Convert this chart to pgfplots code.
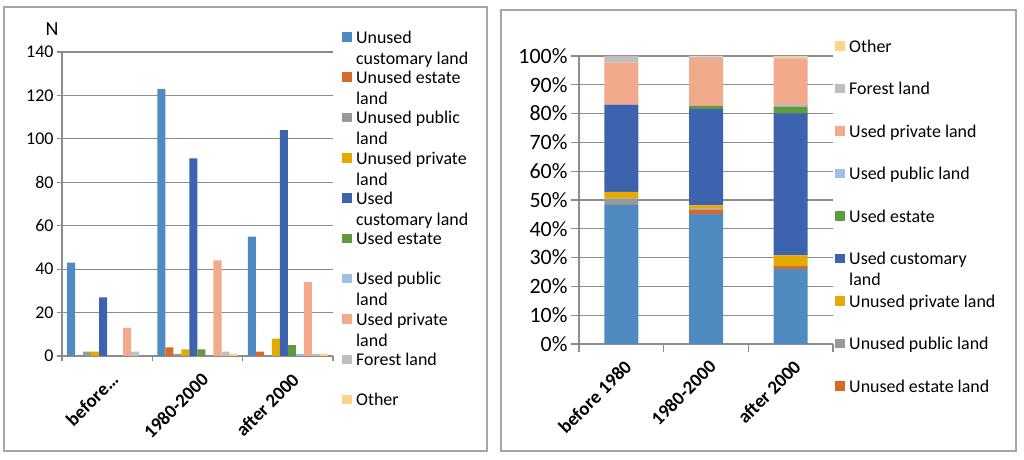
\documentclass[border=0pt]{standalone}
\usepackage{fontspec}
\setmainfont{Carlito}
\usepackage{pgfplots}
\pgfplotsset{compat=1.18}

\definecolor{ucust}{HTML}{4F8BC0}
\definecolor{uest}{HTML}{D66B28}
\definecolor{upub}{HTML}{999999}
\definecolor{upriv}{HTML}{E4AA00}
\definecolor{cust}{HTML}{3D63AE}
\definecolor{est}{HTML}{5F9A3F}
\definecolor{pub}{HTML}{9DC0E6}
\definecolor{priv}{HTML}{F2A98C}
\definecolor{forest}{HTML}{BFBFBF}
\definecolor{other}{HTML}{FFD38A}
\definecolor{axgray}{HTML}{8C8C8C}
\definecolor{frame}{HTML}{A6A6A6}

\pgfplotsset{
  sqleg/.style={legend image code/.code={\fill[##1,draw=none] (0bp,1.5bp) rectangle (10bp,11bp);}},
  xlchart/.style={
    scale only axis,
    anchor=south west,
    enlargelimits=false,
    xmin=-0.5, xmax=2.5,
    xtick={-0.5,0.5,1.5,2.5},
    x tick label as interval,
    axis x line*=bottom, axis y line*=left,
    axis line style={draw=axgray, line width=1.2bp, -},
    tick align=outside,
    tick style={draw=axgray, line width=1.2bp},
    ymajorgrids,
    major grid style={draw=axgray, line width=1.2bp},
    /pgf/number format/assume math mode=true,
  },
}

\newcommand{\two}[2]{\parbox[t]{140bp}{\raggedright #1\\#2}}

\begin{document}
\begin{tikzpicture}
\useasboundingbox (0,0) rectangle (1024bp,460bp);
\draw[frame, line width=1.2bp] (4bp,9bp) rectangle (487bp,453bp);
\draw[frame, line width=1.2bp] (501bp,9bp) rectangle (1016bp,450bp);
\node[font=\fontsize{20}{24}\selectfont] at (52bp,431bp) {N};

% counts by period
\begin{axis}[
  xlchart,
  at={(62bp,104bp)},
  width=271bp, height=304bp,
  ymin=0, ymax=140, ytick={0,20,...,140},
  major tick length=5bp,
  xticklabels={before…,1980-2000,after 2000},
  xticklabel style={font=\bfseries\fontsize{19}{22}\selectfont,
    xshift=3bp, yshift=-6bp, rotate=45, anchor=north east},
  yticklabel style={font=\fontsize{18}{21}\selectfont},
  ybar=0pt, bar width=8bp,
  every axis plot/.append style={draw=none, sqleg},
  legend style={at={(axis description cs:1.033,1.0757)}, anchor=north west,
    draw=none, fill=none, inner sep=0pt, column sep=4bp, row sep=0pt,
    cells={anchor=base west},
    font=\fontsize{18}{21}\selectfont,
    nodes={inner sep=0pt, text height=14bp, text depth=26.3bp}},
]
\addplot[fill=ucust] coordinates {(0,43) (1,123) (2,55)};
\addlegendentry{\two{Unused}{customary land}}
\addplot[fill=uest] coordinates {(0,0) (1,4) (2,2)};
\addlegendentry{\two{Unused estate}{land}}
\addplot[fill=upub] coordinates {(0,2) (1,1) (2,0)};
\addlegendentry{\two{Unused public}{land}}
\addplot[fill=upriv] coordinates {(0,2) (1,3) (2,8)};
\addlegendentry{\two{Unused private}{land}}
\addplot[fill=cust] coordinates {(0,27) (1,91) (2,104)};
\addlegendentry{\two{Used}{customary land}}
\addplot[fill=est] coordinates {(0,0) (1,3) (2,5)};
\addlegendentry{Used estate}
\addplot[fill=pub] coordinates {(0,0) (1,0) (2,1)};
\addlegendentry{\two{Used public}{land}}
\addplot[fill=priv] coordinates {(0,13) (1,44) (2,34)};
\addlegendentry{\two{Used private}{land}}
\addplot[fill=forest] coordinates {(0,2) (1,2) (2,1)};
\addlegendentry{Forest land}
\addplot[fill=other] coordinates {(0,0) (1,1) (2,1)};
\addlegendentry{Other}
\end{axis}

% shares by period (percent)
\begin{axis}[
  xlchart,
  at={(579bp,116bp)},
  width=254bp, height=288bp,
  ymin=0, ymax=100, ytick={0,10,...,100},
  major tick length=8bp,
  xticklabels={before 1980,1980-2000,after 2000},
  xticklabel style={font=\bfseries\fontsize{19}{22}\selectfont,
    xshift=2bp, yshift=-2bp, rotate=45, anchor=north east},
  yticklabel={\pgfmathprintnumber{\tick}\%},
  yticklabel style={font=\fontsize{22}{26}\selectfont},
  ybar stacked, bar width=34bp,
  every axis plot/.append style={draw=none, sqleg},
  reverse legend,
  legend style={at={(axis description cs:1.008,1.0625)}, anchor=north west,
    draw=none, fill=none, inner sep=0pt, column sep=4bp, row sep=0pt,
    cells={anchor=base west},
    font=\fontsize{18}{21}\selectfont,
    nodes={inner sep=0pt, text height=14bp, text depth=28.5bp}},
]
\addplot[fill=ucust, forget plot] coordinates {(0,48.31) (1,45.22) (2,26.07)};
\addplot[fill=uest] coordinates {(0,0) (1,1.47) (2,0.95)};
\addlegendentry{Unused estate land}
\addplot[fill=upub] coordinates {(0,2.25) (1,0.37) (2,0)};
\addlegendentry{Unused public land}
\addplot[fill=upriv] coordinates {(0,2.25) (1,1.10) (2,3.79)};
\addlegendentry{Unused private land}
\addplot[fill=cust] coordinates {(0,30.34) (1,33.46) (2,49.29)};
\addlegendentry{\two{Used customary}{land}}
\addplot[fill=est] coordinates {(0,0) (1,1.10) (2,2.37)};
\addlegendentry{Used estate}
\addplot[fill=pub] coordinates {(0,0) (1,0) (2,0.47)};
\addlegendentry{Used public land}
\addplot[fill=priv] coordinates {(0,14.61) (1,16.18) (2,16.11)};
\addlegendentry{Used private land}
\addplot[fill=forest] coordinates {(0,2.25) (1,0.74) (2,0.47)};
\addlegendentry{Forest land}
\addplot[fill=other] coordinates {(0,0) (1,0.37) (2,0.47)};
\addlegendentry{Other}
\end{axis}
\end{tikzpicture}
\end{document}
